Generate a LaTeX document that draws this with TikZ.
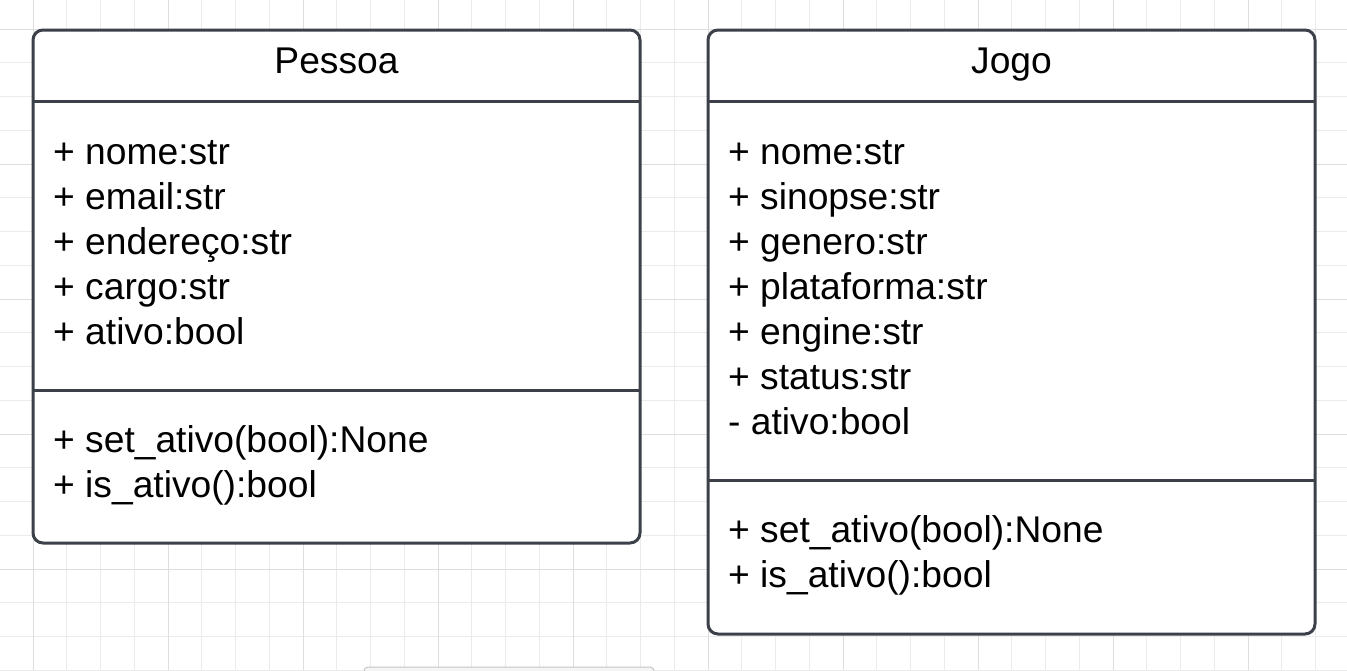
\documentclass[tikz,border=0pt]{standalone}
\usepackage{fontspec}
\setmainfont{Liberation Sans}
\definecolor{umlline}{HTML}{3B4049}
\definecolor{gridminor}{HTML}{EBEBEB}
\definecolor{gridmajor}{HTML}{DEDEDE}
\begin{document}
\begin{tikzpicture}[x=1pt,y=-1pt,
    classbox/.style={draw=umlline, line width=3pt, rounded corners=10pt, fill=white},
    sepline/.style={draw=umlline, line width=3pt},
    member/.style={anchor=base west, inner sep=0pt, font=\fontsize{37.2}{44.6}\selectfont},
    title/.style={anchor=base, inner sep=0pt, font=\fontsize{37.2}{44.6}\selectfont}]
        \clip (0,0) rectangle (1347,670);
        \fill[white] (0,0) rectangle (1347,670);
        % Grid
        \foreach \k in {0,...,39}
            \draw[gridminor, line width=1pt] ({33+33.75*\k},0) -- ({33+33.75*\k},670);
        \foreach \k in {0,...,19}
            \draw[gridminor, line width=1pt] (0,{29+33.75*\k}) -- (1347,{29+33.75*\k});
        \foreach \k in {0,4,...,36}
            \draw[gridmajor, line width=1pt] ({33+33.75*\k},0) -- ({33+33.75*\k},670);
        \foreach \k in {0,4,...,16}
            \draw[gridmajor, line width=1pt] (0,{29+33.75*\k}) -- (1347,{29+33.75*\k});
        % Bar at the bottom
        \draw[draw=gray!45, fill=gray!8, line width=1pt, rounded corners=4pt] (364,667) rectangle (654,690);
        % Pessoa
        \draw[classbox] (33,30) rectangle (640,543);
        \draw[sepline] (33,101) -- (640,101);
        \draw[sepline] (33,390) -- (640,390);
        \node[title] (pessoa) at (336.5,73) {Pessoa};
        \foreach \t [count=\i] in {+ nome:str, + email:str, + endereço:str, + cargo:str, + ativo:bool}
            \node[member] (pa\i) at (53,{164+45*(\i-1)}) {\t};
        \foreach \t [count=\i] in {+ set\_ativo(bool):None, + is\_ativo():bool}
            \node[member] (pm\i) at (53,{452+45*(\i-1)}) {\t};
        % Jogo
        \draw[classbox] (708,30) rectangle (1315,634);
        \draw[sepline] (708,101) -- (1315,101);
        \draw[sepline] (708,480) -- (1315,480);
        \node[title] (jogo) at (1011.5,73) {Jogo};
        \foreach \t [count=\i] in {+ nome:str, + sinopse:str, + genero:str, + plataforma:str, + engine:str, + status:str, - ativo:bool}
            \node[member] (ja\i) at (728,{164+45*(\i-1)}) {\t};
        \foreach \t [count=\i] in {+ set\_ativo(bool):None, + is\_ativo():bool}
            \node[member] (jm\i) at (728,{542+45*(\i-1)}) {\t};
\end{tikzpicture}
\end{document}
